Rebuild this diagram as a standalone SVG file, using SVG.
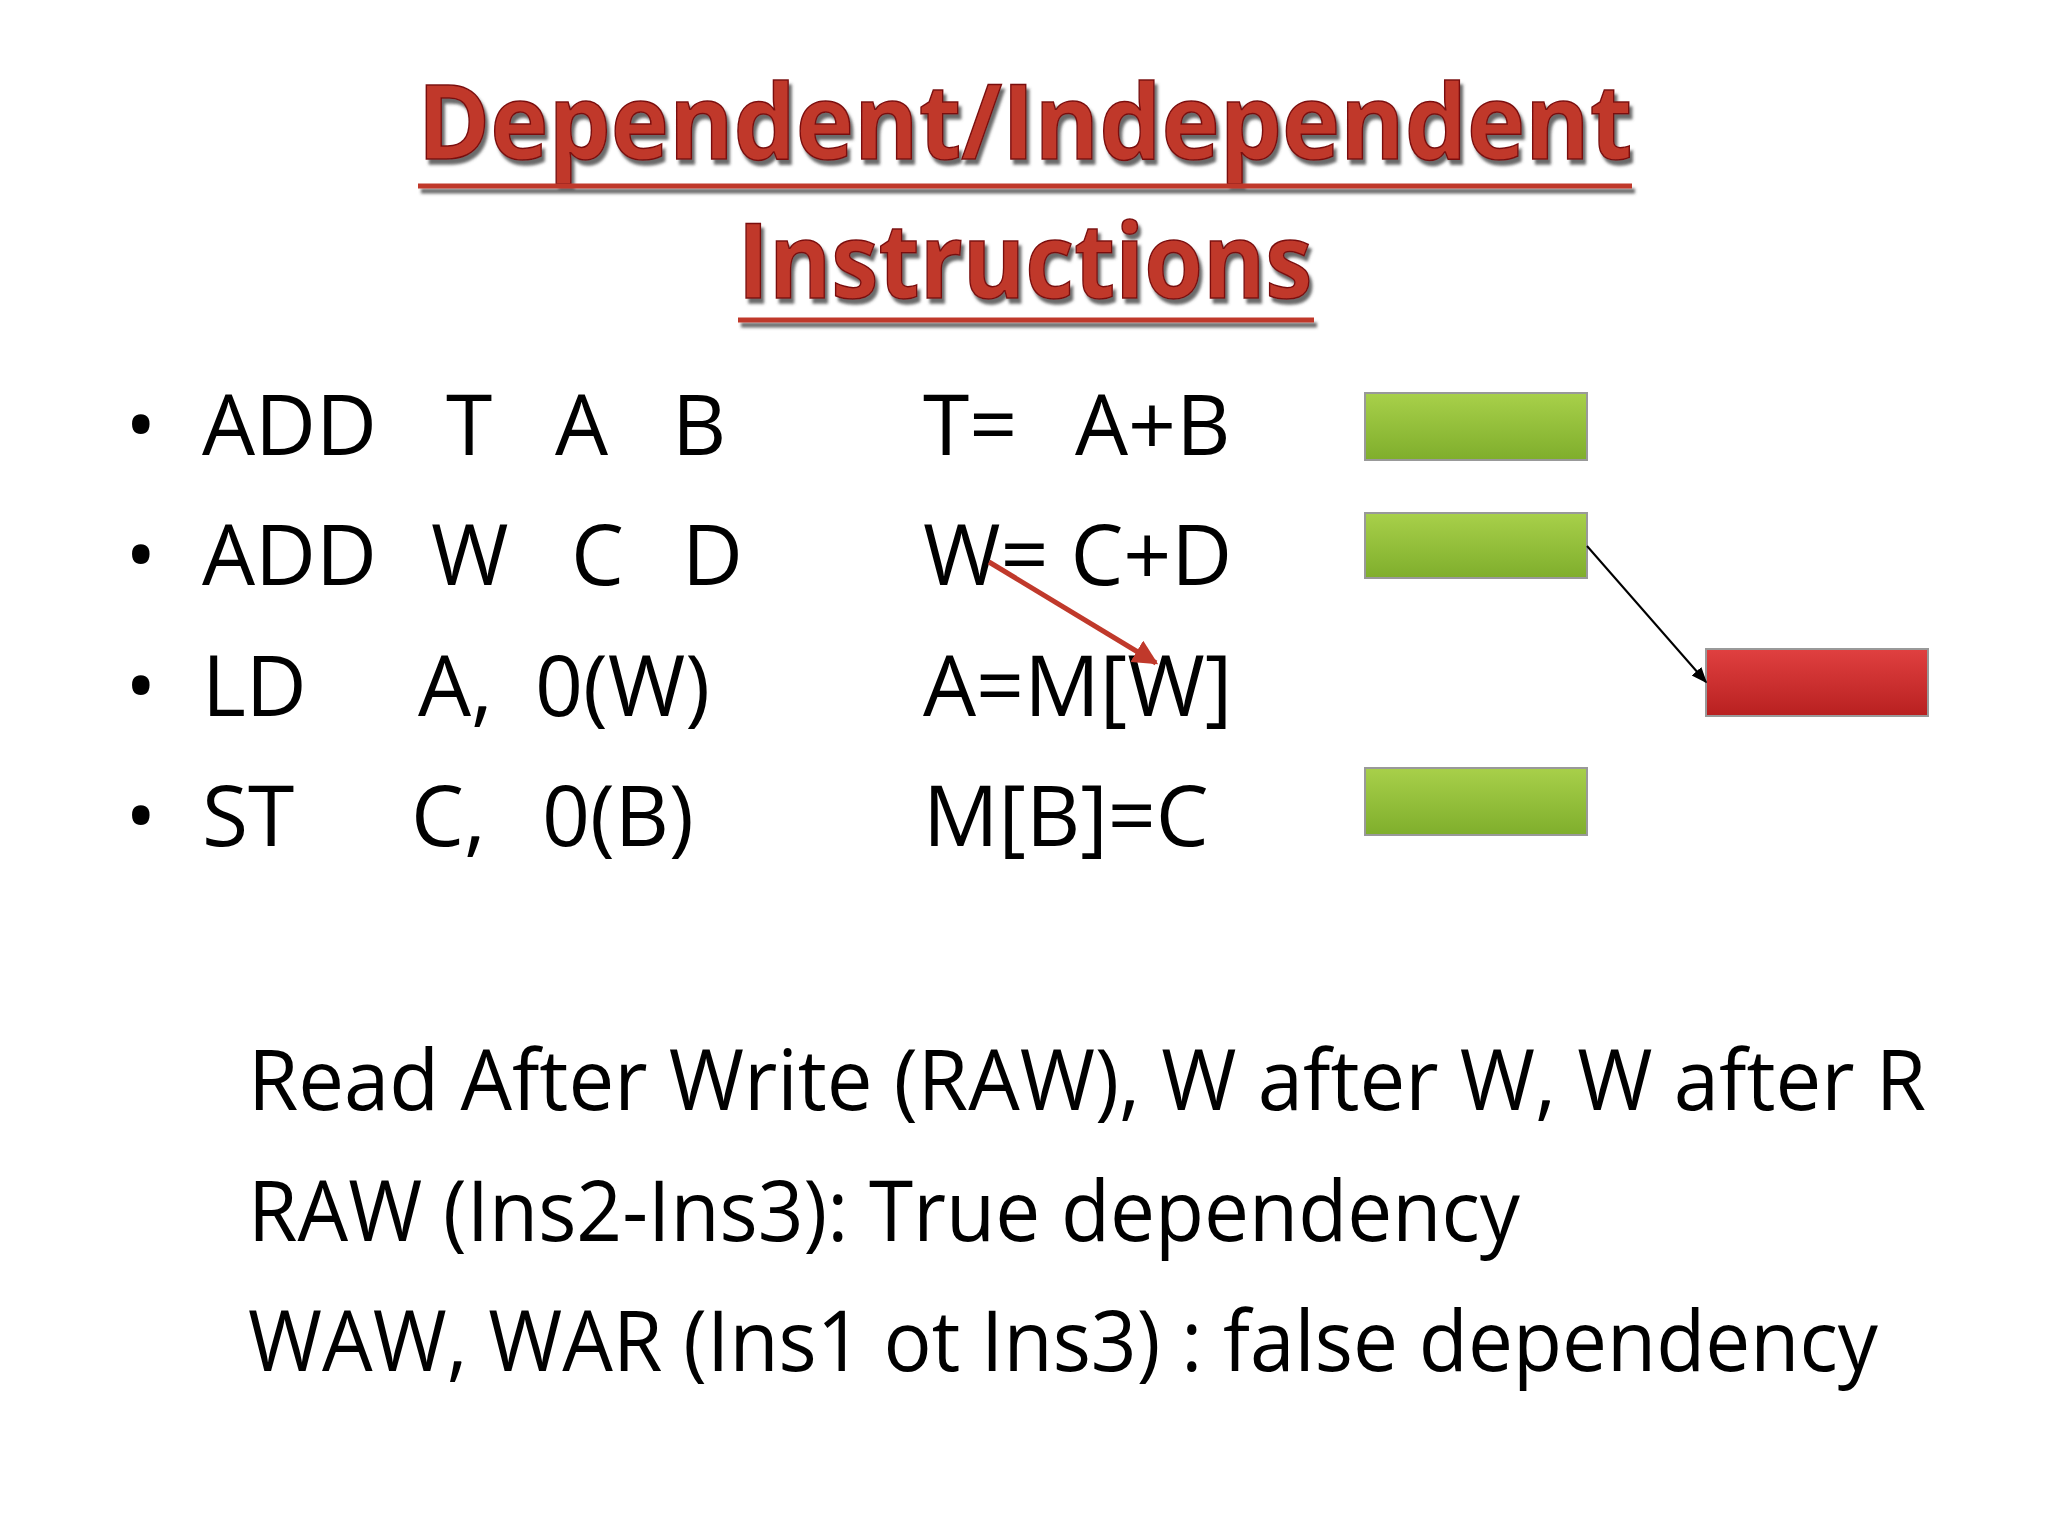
<svg xmlns="http://www.w3.org/2000/svg" width="2048" height="1536" viewBox="0 0 2048 1536">
<defs>
<linearGradient id="g" x1="0" y1="0" x2="0" y2="1"><stop offset="0" stop-color="#a8d04a"/><stop offset="1" stop-color="#7fae2c"/></linearGradient>
<linearGradient id="r" x1="0" y1="0" x2="0" y2="1"><stop offset="0" stop-color="#e04040"/><stop offset="1" stop-color="#b82020"/></linearGradient>
<filter id="sh" x="-5%" y="-20%" width="110%" height="140%"><feDropShadow dx="3" dy="5" stdDeviation="1.5" flood-color="#444" flood-opacity="0.8"/></filter>
<marker id="ab" viewBox="0 0 10 10" refX="9" refY="5" markerWidth="8" markerHeight="8" orient="auto"><path d="M0,1 L10,5 L0,9 z" fill="#000"/></marker>
<marker id="ar" viewBox="0 0 10 10" refX="9" refY="5" markerWidth="5" markerHeight="5" orient="auto"><path d="M0,0 L10,5 L0,10 z" fill="#c0392b"/></marker>
</defs>
<style>
.t{font-family:"Open Sans","Liberation Sans",sans-serif;font-weight:bold;font-size:104px;fill:#c0392b;stroke:#7a1010;stroke-width:1.5}
.b{font-family:"Open Sans","Liberation Sans",sans-serif;font-size:84px;fill:#000}
.bar{stroke:#999;stroke-width:2}
</style>
<rect width="2048" height="1536" fill="#fff"/>
<g id="title" filter="url(#sh)">
<text x="1025" y="159" text-anchor="middle" class="t" textLength="1215" lengthAdjust="spacingAndGlyphs">Dependent/Independent</text>
<line x1="418" y1="186" x2="1632" y2="186" stroke="#c0392b" stroke-width="5"/>
<text x="1025" y="298" text-anchor="middle" class="t" textLength="575" lengthAdjust="spacingAndGlyphs">Instructions</text>
<line x1="738" y1="320" x2="1314" y2="320" stroke="#c0392b" stroke-width="5"/>
</g>
<g id="instructions">
<text class="b" x="125" y="455">•</text><text class="b" x="202" y="455">ADD</text><text class="b" x="446" y="455">T</text><text class="b" x="555" y="455">A</text><text class="b" x="672" y="455">B</text>
<text class="b" x="125" y="585">•</text><text class="b" x="202" y="585">ADD</text><text class="b" x="431" y="585">W</text><text class="b" x="571" y="585">C</text><text class="b" x="682" y="585">D</text>
<text class="b" x="125" y="716">•</text><text class="b" x="202" y="716">LD</text><text class="b" x="418" y="716">A,</text><text class="b" x="535" y="716">0(W)</text>
<text class="b" x="125" y="846">•</text><text class="b" x="202" y="846">ST</text><text class="b" x="411" y="846">C,</text><text class="b" x="542" y="846">0(B)</text>
<text class="b" x="923" y="455">T=</text><text class="b" x="1075" y="455">A+B</text>
<text class="b" x="923" y="585">W= C+D</text>
<text class="b" x="923" y="716">A=M[W]</text>
<text class="b" x="923" y="846">M[B]=C</text>
</g>
<g id="bar1"><rect class="bar" x="1365" y="393" width="222" height="67" fill="url(#g)"/></g>
<g id="bar2"><rect class="bar" x="1365" y="513" width="222" height="65" fill="url(#g)"/></g>
<g id="bar3"><rect class="bar" x="1706" y="649" width="222" height="67" fill="url(#r)"/></g>
<g id="bar4"><rect class="bar" x="1365" y="768" width="222" height="67" fill="url(#g)"/></g>
<g id="connectors">
<line x1="1587" y1="546" x2="1706" y2="682" stroke="#000" stroke-width="2" marker-end="url(#ab)"/>
<line x1="989" y1="562" x2="1156" y2="663" stroke="#c0392b" stroke-width="5" marker-end="url(#ar)"/>
</g>
<g id="notes">
<text class="b" x="248" y="1110" textLength="1678" lengthAdjust="spacingAndGlyphs">Read After Write (RAW), W after W, W after R</text>
<text class="b" x="248" y="1241" textLength="1272" lengthAdjust="spacingAndGlyphs">RAW (Ins2-Ins3): True dependency</text>
<text class="b" x="248" y="1371" textLength="1630" lengthAdjust="spacingAndGlyphs">WAW, WAR (Ins1 ot Ins3) : false dependency</text>
</g>
</svg>
